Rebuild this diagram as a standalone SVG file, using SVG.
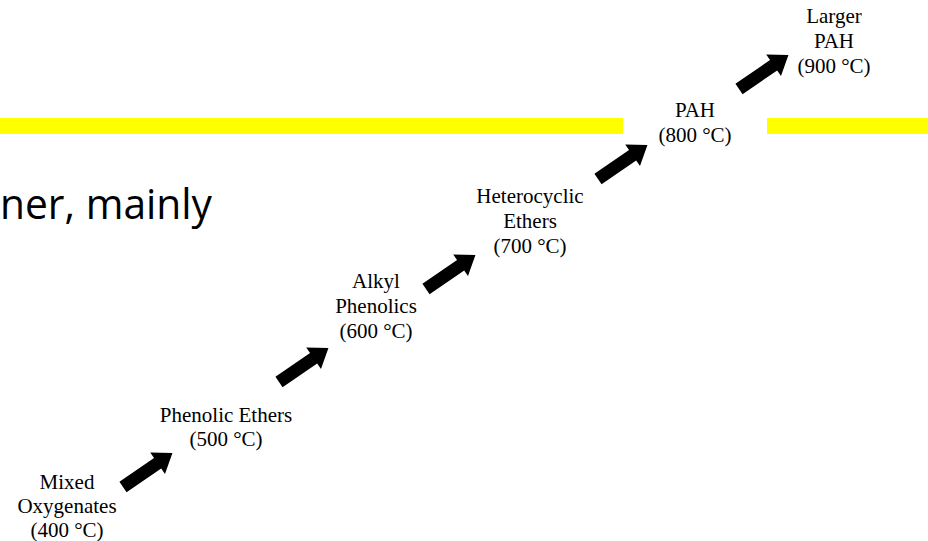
<svg xmlns="http://www.w3.org/2000/svg" xmlns:xlink="http://www.w3.org/1999/xlink" width="928" height="541" viewBox="0 0 928 541">
  <style>
    .lbl { font-family: "Liberation Serif", "Times New Roman", serif; font-size: 21px; fill: #000; text-anchor: middle; }
    .big { font-family: "Open Sans", "Noto Sans", sans-serif; font-size: 42px; fill: #000; }
    .bar { fill: #ffff00; }
  </style>
  <defs>
    <polygon id="arrow" points="0,-6.3 42,-6.3 42,-13 60,0 42,13 42,6.3 0,6.3" fill="#000"/>
  </defs>
  <rect width="928" height="541" fill="#fff"/>
  <g id="background">
    <rect class="bar" x="0" y="118" width="623" height="16"/>
    <rect class="bar" x="767" y="118" width="161" height="16"/>
    <text class="big" x="0" y="219" textLength="212" lengthAdjust="spacingAndGlyphs">ner, mainly</text>
  </g>
  <g id="node-400">
    <text class="lbl" x="67" y="489">Mixed</text>
    <text class="lbl" x="67" y="513">Oxygenates</text>
    <text class="lbl" x="67" y="537">(400 °C)</text>
  </g>
  <g id="node-500">
    <text class="lbl" x="226" y="422">Phenolic Ethers</text>
    <text class="lbl" x="226" y="446">(500 °C)</text>
  </g>
  <g id="node-600">
    <text class="lbl" x="376" y="288">Alkyl</text>
    <text class="lbl" x="376" y="313">Phenolics</text>
    <text class="lbl" x="376" y="338">(600 °C)</text>
  </g>
  <g id="node-700">
    <text class="lbl" x="530" y="203">Heterocyclic</text>
    <text class="lbl" x="530" y="228">Ethers</text>
    <text class="lbl" x="530" y="253">(700 °C)</text>
  </g>
  <g id="node-800">
    <text class="lbl" x="695" y="117">PAH</text>
    <text class="lbl" x="695" y="142">(800 °C)</text>
  </g>
  <g id="node-900">
    <text class="lbl" x="834" y="23">Larger</text>
    <text class="lbl" x="834" y="48">PAH</text>
    <text class="lbl" x="834" y="73">(900 °C)</text>
  </g>
  <g id="connectors">
    <use xlink:href="#arrow" href="#arrow" transform="translate(123,487) rotate(-34.5)"/>
    <use xlink:href="#arrow" href="#arrow" transform="translate(279,382) rotate(-34.5)"/>
    <use xlink:href="#arrow" href="#arrow" transform="translate(426,289) rotate(-34.5)"/>
    <use xlink:href="#arrow" href="#arrow" transform="translate(598,179) rotate(-34.5)"/>
    <use xlink:href="#arrow" href="#arrow" transform="translate(739,89) rotate(-34.5)"/>
  </g>
</svg>
